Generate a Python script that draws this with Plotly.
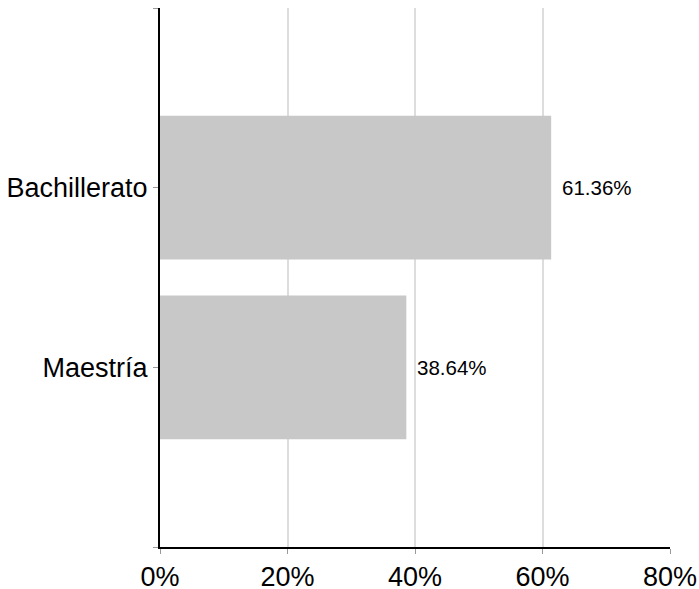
import plotly.graph_objects as go

categories = ["Maestría", "Bachillerato"]
values = [38.64, 61.36]
labels = ["38.64%", "61.36%"]
x_ticks = [0, 20, 40, 60, 80]
x_ticktext = ["0%", "20%", "40%", "60%", "80%"]

ypos = list(range(len(categories)))

fig = go.Figure(go.Bar(
    x=values, y=ypos, orientation="h",
    marker=dict(color="#c8c8c8", line=dict(width=0)),
    width=0.8,
))

for xv, yv, t in zip(values, ypos, labels):
    fig.add_annotation(
        x=xv, y=yv, text=t, showarrow=False, xanchor="left", yanchor="middle",
        xshift=9, font=dict(family="Liberation Sans, Arial", size=20.5, color="#000"),
    )

fig.update_layout(
    width=699, height=589,
    margin=dict(l=160, r=29, t=8, b=42, autoexpand=False),
    paper_bgcolor="white", plot_bgcolor="white",
    font=dict(family="Liberation Sans, Arial", color="#000"),
    showlegend=False,
    xaxis=dict(
        range=[0, 80], tickvals=x_ticks, ticktext=x_ticktext, automargin=False,
        showgrid=True, gridcolor="#dddddd", gridwidth=2,
        showline=True, linecolor="#000", linewidth=2,
        ticks="outside", tickcolor="#999", ticklen=5, tickwidth=1,
        tickfont=dict(size=27), zeroline=False,
    ),
    yaxis=dict(
        range=[-1, 2], tickvals=[-1, 0, 1, 2], ticktext=[""] + categories + [""],
        automargin=False,
        showgrid=False, showline=True, linecolor="#000", linewidth=2,
        ticks="outside", tickcolor="#999", ticklen=5, tickwidth=1,
        tickfont=dict(size=27), zeroline=False,
    ),
)

fig.write_html(
    "out.html",
    config={"displayModeBar": False, "responsive": False},
    post_script="document.body.style.margin='0';document.documentElement.style.overflow='hidden';document.body.style.overflow='hidden';",
)
